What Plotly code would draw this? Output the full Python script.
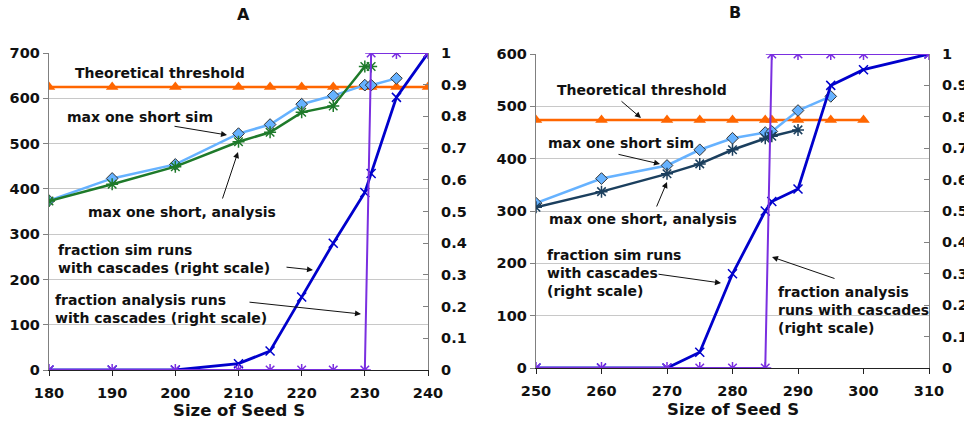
import plotly.graph_objects as go

# ---------------- Data: panel A ----------------
a_x_thr = [180, 190, 200, 210, 215, 220, 225, 230, 231, 235, 240]
a_thr = [625, 625, 625, 625, 625, 625, 625, 625, 625, 625, 625]
a_x_sim = [180, 190, 200, 210, 215, 220, 225, 230, 231, 235]
a_sim = [374, 423, 454, 522, 542, 587, 606, 629, 629, 644]
a_x_ana = [180, 190, 200, 210, 215, 220, 225, 230, 231]
a_ana = [373, 410, 449, 504, 525, 569, 583, 670, 670]
a_x_fsim = [180, 190, 200, 210, 215, 220, 225, 230, 231, 235, 240]
a_fsim = [0, 0, 0, 0.02, 0.06, 0.23, 0.40, 0.56, 0.62, 0.86, 1.0]
a_x_fana = [180, 190, 200, 210, 215, 220, 225, 230, 231, 235, 240]
a_fana = [0, 0, 0, 0, 0, 0, 0, 0, 1, 1, 1]

# ---------------- Data: panel B ----------------
b_x_thr = [250, 260, 270, 275, 280, 285, 286, 290, 295, 300]
b_thr = [474, 474, 474, 474, 474, 474, 474, 474, 474, 474]
b_x_sim = [250, 260, 270, 275, 280, 285, 286, 290, 295]
b_sim = [315, 362, 387, 417, 439, 450, 452, 492, 519]
b_x_ana = [250, 260, 270, 275, 280, 285, 286, 290]
b_ana = [307, 337, 371, 390, 417, 439, 443, 455]
b_x_fsim = [250, 260, 270, 275, 280, 285, 286, 290, 295, 300, 310]
b_fsim = [0, 0, 0, 0.05, 0.30, 0.50, 0.53, 0.57, 0.90, 0.95, 1.0]
b_x_fana = [250, 260, 270, 275, 280, 285, 286, 290, 295, 300, 310]
b_fana = [0, 0, 0, 0, 0, 0, 1, 1, 1, 1, 1]

W, H = 964, 429
FONT = "DejaVu Sans"
ORANGE = "#FF6600"
LBLUE = "#66B2FF"
GREEN = "#1E7A2A"
NAVY = "#1B3F5E"
BLUE = "#0000CC"
PURPLE = "#7A2FE0"


def px(x):
    return x / W


def py(y):
    return 1 - y / H


fig = go.Figure()


def add_panel(xa, ya, ya2, xt, thr, xs, sim, xan, ana, ana_color, xfs, fsim, xfa, fana):
    fig.add_trace(go.Scatter(x=xt, y=thr, xaxis=xa, yaxis=ya, mode="lines+markers",
                             line=dict(color=ORANGE, width=2.5),
                             marker=dict(symbol="triangle-up", size=11, color=ORANGE)))
    fig.add_trace(go.Scatter(x=xs, y=sim, xaxis=xa, yaxis=ya, mode="lines+markers",
                             line=dict(color=LBLUE, width=2.5),
                             marker=dict(symbol="diamond", size=9, color=LBLUE,
                                         line=dict(color="#333333", width=1))))
    fig.add_trace(go.Scatter(x=xan, y=ana, xaxis=xa, yaxis=ya, mode="lines+markers",
                             line=dict(color=ana_color, width=2.5),
                             marker=dict(symbol="asterisk-open", size=10,
                                         line=dict(color=ana_color, width=1.5))))
    fig.add_trace(go.Scatter(x=xfs, y=fsim, xaxis=xa, yaxis=ya2, mode="lines+markers",
                             line=dict(color=BLUE, width=2.8),
                             marker=dict(symbol="x-thin-open", size=9,
                                         line=dict(color=BLUE, width=1.5))))
    fig.add_trace(go.Scatter(x=xfa, y=fana, xaxis=xa, yaxis=ya2, mode="lines+markers",
                             line=dict(color=PURPLE, width=2),
                             marker=dict(symbol="asterisk-open", size=10,
                                         line=dict(color=PURPLE, width=1.5))))


add_panel("x", "y", "y2", a_x_thr, a_thr, a_x_sim, a_sim, a_x_ana, a_ana, GREEN,
          a_x_fsim, a_fsim, a_x_fana, a_fana)
add_panel("x2", "y3", "y4", b_x_thr, b_thr, b_x_sim, b_sim, b_x_ana, b_ana, NAVY,
          b_x_fsim, b_fsim, b_x_fana, b_fana)

tickfont = dict(family=FONT, size=14.5, color="#111111", weight="bold")

common_x = dict(dtick=10, ticks="outside", ticklen=5, tickcolor="#222222",
                showline=True, linecolor="#222222", linewidth=1.2,
                showgrid=False, zeroline=False, tickfont=tickfont, automargin=False,
                ticklabelstandoff=4)
common_yl = dict(ticks="outside", ticklen=5, tickcolor="#808080",
                 showline=True, linecolor="#808080", linewidth=1.2,
                 showgrid=True, gridcolor="#C8C8C8", gridwidth=1,
                 zeroline=False, tickfont=tickfont, automargin=False)
common_yr = dict(side="right", range=[0, 1], dtick=0.1, tick0=0,
                 ticks="inside", ticklen=5, tickcolor="#808080",
                 showline=True, linecolor="#808080", linewidth=1.2,
                 showgrid=False, zeroline=False, tickfont=tickfont, automargin=False,
                 ticklabelstandoff=9)

fig.update_layout(
    width=W, height=H,
    margin=dict(l=0, r=0, t=0, b=0),
    paper_bgcolor="white", plot_bgcolor="white",
    showlegend=False,
    font=dict(family=FONT, size=14, color="#111111"),
    xaxis=dict(domain=[px(49), px(428)], range=[180, 240], tick0=180, anchor="y", **common_x),
    yaxis=dict(domain=[py(370), py(53)], range=[0, 700], dtick=100, anchor="x", **common_yl),
    yaxis2=dict(domain=[py(370), py(53)], overlaying="y", anchor="x", **common_yr),
    xaxis2=dict(domain=[px(536), px(929)], range=[250, 310], tick0=250, anchor="y3", **common_x),
    yaxis3=dict(domain=[py(368), py(54)], range=[0, 600], dtick=100, anchor="x2", **common_yl),
    yaxis4=dict(domain=[py(368), py(54)], overlaying="y3", anchor="x2", **common_yr),
)

afont = dict(family=FONT, size=14, color="#111111", weight="bold")


def text(t, x, y, xanchor="center", size=14):
    f = dict(afont)
    f["size"] = size
    fig.add_annotation(text=t, x=px(x), y=py(y), xref="paper", yref="paper",
                       xanchor=xanchor, yanchor="middle", align="left",
                       showarrow=False, font=f)


def arrow(tail, tip):
    fig.add_annotation(text="", x=px(tip[0]), y=py(tip[1]), xref="paper", yref="paper",
                       ax=tail[0] - tip[0], ay=tail[1] - tip[1],
                       showarrow=True, arrowhead=2, arrowsize=1.2, arrowwidth=1,
                       arrowcolor="#111111", standoff=0, startstandoff=0)


# titles
text("A", 243, 14, size=16)
text("B", 735, 13, size=16)
text("Size of Seed S", 238.5, 410, size=16.5)
text("Size of Seed S", 732.5, 409, size=16.5)

# panel A labels
text("Theoretical threshold", 160, 73)
text("max one short sim", 140, 117)
text("max one short, analysis", 182, 212)
text("fraction sim runs<br>with cascades (right scale)", 56, 259, xanchor="left")
text("fraction analysis runs<br>with cascades (right scale)", 53, 308.5, xanchor="left")
arrow((173, 126), (227, 135))
arrow((222, 200), (238, 152))
arrow((285, 267), (313, 270))
arrow((248, 302), (361, 314))

# panel B labels
text("Theoretical threshold", 642, 90)
text("max one short sim", 621, 143)
text("max one short, analysis", 643, 219)
text("fraction sim runs<br>with cascades<br>(right scale)", 545, 273, xanchor="left")
text("fraction analysis<br>runs with cascades<br>(right scale)", 776, 310, xanchor="left")
arrow((620, 100), (641, 118))
arrow((617, 154), (660, 164))
arrow((656, 208), (667, 182))
arrow((657, 274), (721, 283))
arrow((836, 279), (772, 257))

fig.write_html("out.html",
               config={"displayModeBar": False, "staticPlot": True},
               post_script="document.body.style.margin='0';")
